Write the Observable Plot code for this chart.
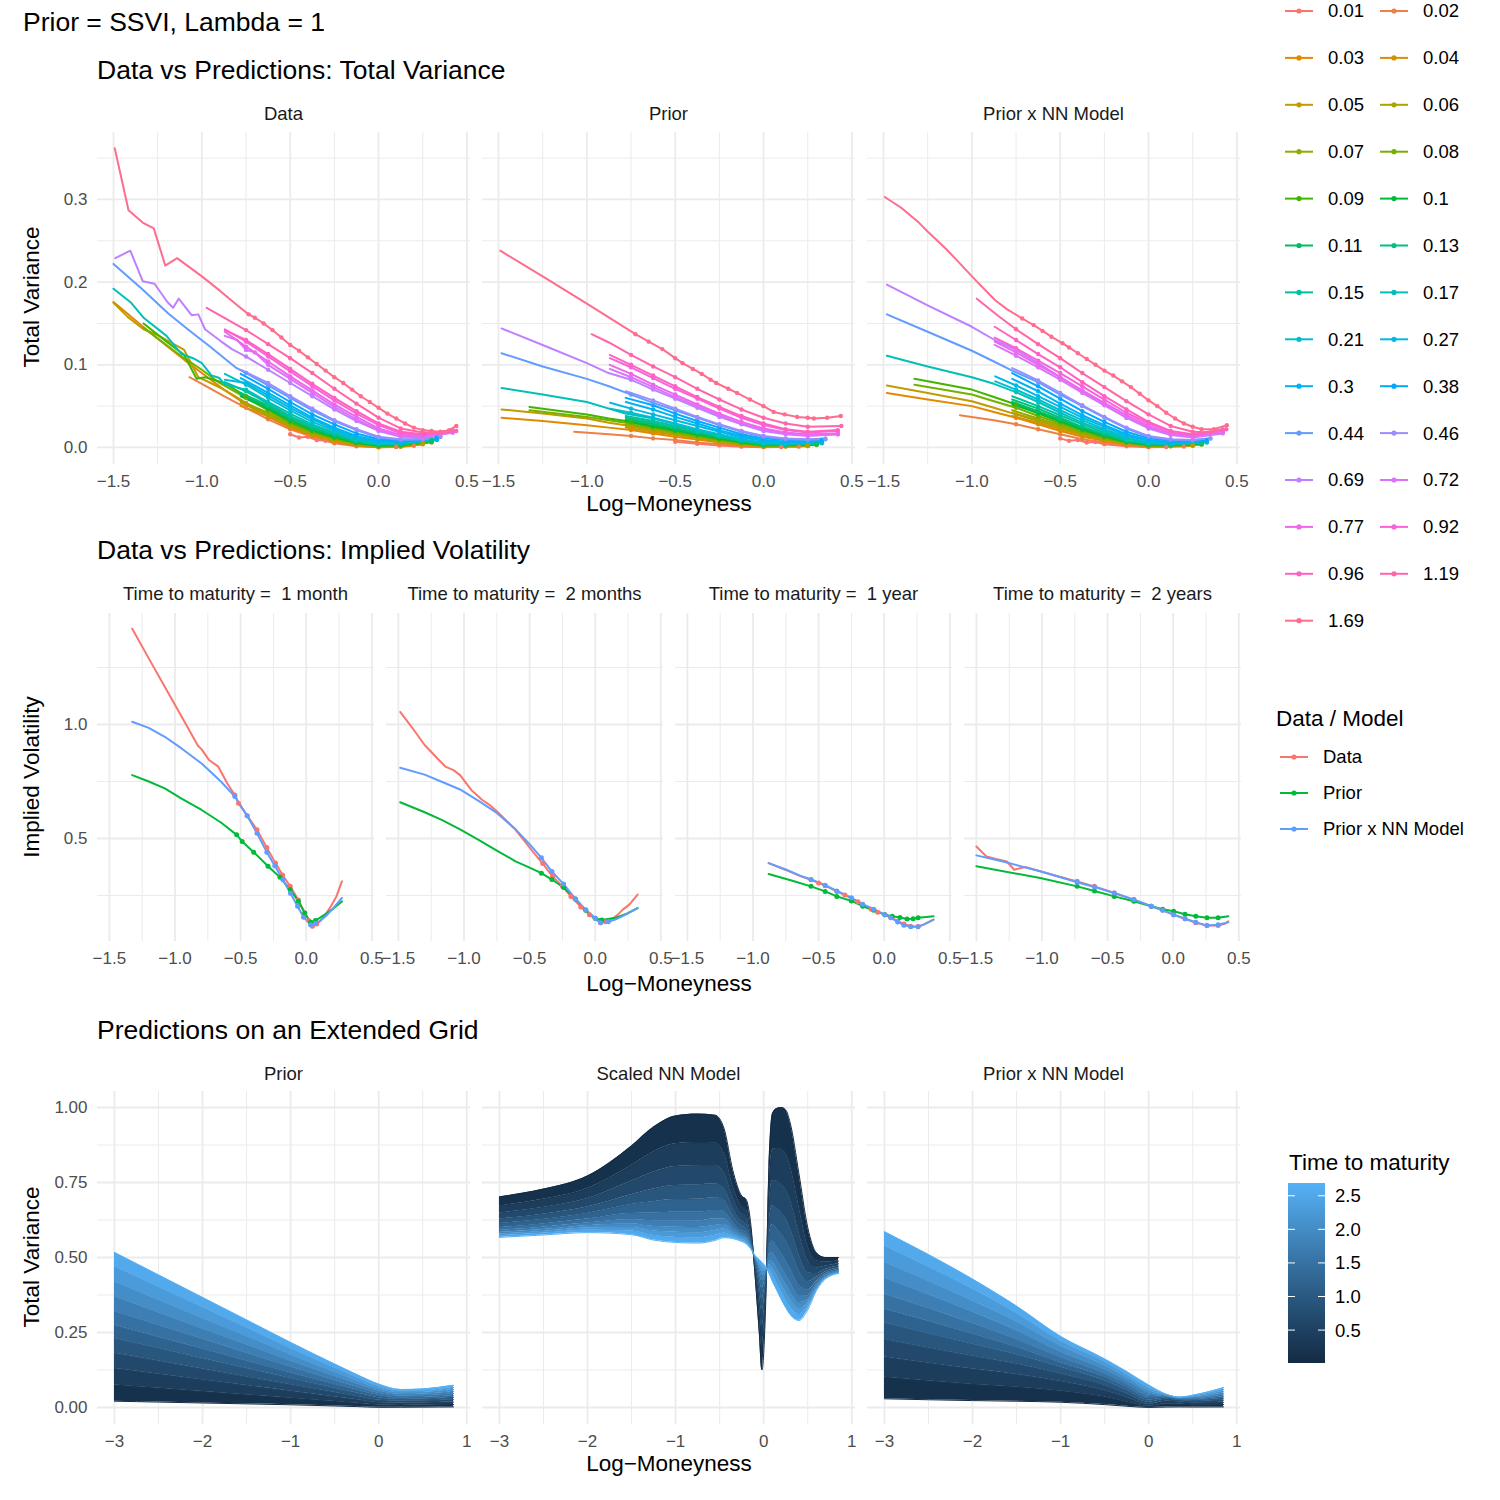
<!DOCTYPE html>
<html><head><meta charset="utf-8">
<script src="https://cdn.jsdelivr.net/npm/d3@7"></script>
<script src="https://cdn.jsdelivr.net/npm/@observablehq/plot@0.6"></script>
<style>
body{margin:0;background:#fff;}
#root{position:relative;width:1500px;height:1500px;overflow:hidden;background:#fff;}
</style></head><body><div id="root"></div>
<script>
// ---------------- DATA ----------------
const maturities = [0.01,0.02,0.03,0.04,0.05,0.06,0.07,0.08,0.09,0.1,0.11,0.13,0.15,0.17,0.21,0.27,0.3,0.38,0.44,0.46,0.69,0.72,0.77,0.92,0.96,1.19,1.69];
const maturityLabels = maturities.map(String);

// Row 1: total variance curves, one flat [k, w, k, w, ...] list per maturity
const tvDataCurves = [
 [-0.5,0.016,-0.45,0.012,-0.4,0.013,-0.35,0.009,-0.3,0.008,-0.25,0.005,-0.125,0.0015,0,0.0003,0.1,0.0008],
 [-1.07,0.085,-1.0,0.077,-0.875,0.062,-0.75,0.048,-0.625,0.034,-0.5,0.022,-0.375,0.013,-0.25,0.006,-0.125,0.002,0,0.0004,0.1,0.0006,0.2,0.002],
 [-1.5,0.176,-1.4,0.158,-1.3,0.14,-1.2,0.123,-1.1,0.106,-1.0,0.09,-0.875,0.07,-0.75,0.052,-0.625,0.037,-0.5,0.024,-0.375,0.014,-0.25,0.007,-0.125,0.0025,0,0.0006,0.125,0.001,0.25,0.004],
 [-0.78,0.05,-0.625,0.038,-0.5,0.025,-0.375,0.015,-0.25,0.008,-0.125,0.003,0,0.0008,0.125,0.0012,0.25,0.004],
 [-1.5,0.175,-1.42,0.158,-1.33,0.143,-1.25,0.136,-1.2,0.13,-1.1,0.118,-1.02,0.085,-0.95,0.078,-0.875,0.07,-0.75,0.054,-0.625,0.039,-0.5,0.026,-0.375,0.016,-0.25,0.009,-0.125,0.0035,0,0.001,0.125,0.0015,0.25,0.005],
 [-0.78,0.054,-0.625,0.04,-0.5,0.027,-0.375,0.017,-0.25,0.009,-0.125,0.004,0,0.0012,0.125,0.002,0.25,0.005],
 [-0.78,0.056,-0.625,0.042,-0.5,0.028,-0.375,0.018,-0.25,0.01,-0.125,0.0045,0,0.0015,0.125,0.002,0.3,0.006],
 [-1.33,0.145,-1.2,0.124,-1.1,0.108,-1.0,0.094,-0.9,0.078,-0.75,0.06,-0.625,0.045,-0.5,0.03,-0.375,0.019,-0.25,0.011,-0.125,0.005,0,0.0018,0.125,0.0025,0.3,0.007],
 [-1.33,0.15,-1.2,0.128,-1.1,0.112,-1.03,0.083,-0.98,0.085,-0.875,0.078,-0.75,0.062,-0.625,0.046,-0.5,0.031,-0.375,0.02,-0.25,0.012,-0.125,0.0055,0,0.002,0.125,0.003,0.3,0.007],
 [-0.78,0.062,-0.625,0.047,-0.5,0.033,-0.375,0.021,-0.25,0.013,-0.125,0.006,0,0.0025,0.125,0.003,0.3,0.008],
 [-0.78,0.064,-0.625,0.049,-0.5,0.034,-0.375,0.022,-0.25,0.014,-0.125,0.0065,0,0.003,0.125,0.0035,0.3,0.008],
 [-0.78,0.066,-0.625,0.051,-0.5,0.036,-0.375,0.024,-0.25,0.015,-0.125,0.007,0,0.0035,0.125,0.004,0.3,0.009],
 [-0.87,0.079,-0.75,0.068,-0.625,0.053,-0.5,0.038,-0.375,0.026,-0.25,0.017,-0.125,0.008,0,0.004,0.125,0.0045,0.33,0.009],
 [-1.5,0.192,-1.4,0.175,-1.33,0.157,-1.2,0.135,-1.115,0.113,-1.05,0.108,-1.0,0.102,-0.945,0.087,-0.9,0.084,-0.87,0.076,-0.75,0.07,-0.625,0.055,-0.5,0.041,-0.375,0.028,-0.25,0.018,-0.125,0.009,0,0.0045,0.125,0.005,0.33,0.01],
 [-0.87,0.089,-0.75,0.076,-0.625,0.06,-0.5,0.045,-0.375,0.031,-0.25,0.02,-0.125,0.011,0,0.005,0.125,0.005,0.33,0.01],
 [-0.87,0.082,-0.75,0.078,-0.625,0.063,-0.5,0.048,-0.375,0.034,-0.25,0.022,-0.125,0.012,0,0.007,0.125,0.006,0.33,0.011],
 [-0.78,0.084,-0.625,0.066,-0.5,0.051,-0.375,0.036,-0.25,0.024,-0.125,0.014,0,0.008,0.125,0.007,0.33,0.011],
 [-0.78,0.089,-0.625,0.071,-0.5,0.055,-0.375,0.04,-0.25,0.028,-0.125,0.017,0,0.01,0.125,0.008,0.33,0.012],
 [-1.5,0.222,-1.34,0.192,-1.19,0.162,-1.08,0.143,-0.96,0.123,-0.81,0.097,-0.75,0.09,-0.625,0.075,-0.5,0.06,-0.375,0.045,-0.25,0.032,-0.125,0.021,0,0.012,0.125,0.009,0.25,0.01,0.35,0.013],
 [-0.78,0.094,-0.625,0.078,-0.5,0.062,-0.375,0.047,-0.25,0.033,-0.125,0.022,0,0.013,0.125,0.01,0.25,0.01,0.35,0.013],
 [-1.49,0.229,-1.405,0.238,-1.334,0.201,-1.268,0.198,-1.195,0.176,-1.163,0.169,-1.131,0.18,-1.058,0.16,-1.02,0.161,-0.982,0.143,-0.896,0.129,-0.83,0.119,-0.75,0.11,-0.625,0.094,-0.5,0.078,-0.375,0.062,-0.25,0.046,-0.125,0.032,0,0.02,0.125,0.013,0.25,0.012,0.42,0.018],
 [-0.87,0.135,-0.8,0.13,-0.75,0.118,-0.7,0.115,-0.625,0.1,-0.5,0.083,-0.375,0.066,-0.25,0.049,-0.125,0.034,0,0.021,0.125,0.014,0.25,0.013,0.42,0.018],
 [-0.87,0.14,-0.75,0.122,-0.625,0.104,-0.5,0.086,-0.375,0.069,-0.25,0.052,-0.125,0.037,0,0.023,0.125,0.015,0.25,0.014,0.42,0.019],
 [-0.87,0.143,-0.75,0.128,-0.625,0.11,-0.5,0.092,-0.375,0.074,-0.25,0.057,-0.125,0.041,0,0.027,0.125,0.017,0.25,0.015,0.42,0.02],
 [-0.87,0.142,-0.75,0.13,-0.625,0.113,-0.5,0.095,-0.375,0.077,-0.25,0.06,-0.125,0.044,0,0.029,0.125,0.019,0.25,0.016,0.42,0.021],
 [-0.973,0.169,-0.875,0.157,-0.75,0.142,-0.625,0.125,-0.5,0.108,-0.375,0.09,-0.25,0.071,-0.125,0.053,0,0.036,0.125,0.023,0.25,0.018,0.35,0.018,0.44,0.02],
 [-1.493,0.362,-1.415,0.287,-1.335,0.272,-1.272,0.265,-1.207,0.22,-1.14,0.229,-1.0,0.207,-0.9,0.19,-0.8,0.172,-0.735,0.161,-0.7,0.157,-0.65,0.15,-0.6,0.142,-0.55,0.133,-0.5,0.124,-0.45,0.117,-0.4,0.109,-0.35,0.101,-0.3,0.093,-0.25,0.085,-0.2,0.078,-0.15,0.07,-0.1,0.062,-0.05,0.055,0,0.048,0.05,0.041,0.1,0.035,0.15,0.029,0.2,0.024,0.25,0.021,0.3,0.02,0.35,0.019,0.4,0.021,0.44,0.026]
];
const tvPriorCurves = [
 [-0.5,0.007,-0.375,0.0045,-0.25,0.0025,-0.125,0.001,0,0.0004,0.1,0.0005],
 [-1.072,0.019,-0.875,0.016,-0.75,0.014,-0.625,0.011,-0.5,0.009,-0.375,0.006,-0.25,0.004,-0.125,0.002,0,0.0008,0.2,0.001],
 [-1.483,0.036,-1.25,0.032,-1.0,0.027,-0.875,0.024,-0.75,0.021,-0.625,0.017,-0.5,0.013,-0.375,0.0095,-0.25,0.006,-0.125,0.003,0,0.0012,0.125,0.0012,0.25,0.0016],
 [-0.78,0.024,-0.625,0.019,-0.5,0.015,-0.375,0.011,-0.25,0.007,-0.125,0.0035,0,0.0015,0.125,0.0014,0.25,0.002],
 [-1.483,0.046,-1.25,0.041,-1.0,0.035,-0.875,0.03,-0.75,0.026,-0.625,0.021,-0.5,0.016,-0.375,0.012,-0.25,0.0075,-0.125,0.004,0,0.0018,0.125,0.0016,0.25,0.0022],
 [-0.78,0.026,-0.625,0.021,-0.5,0.017,-0.375,0.012,-0.25,0.008,-0.125,0.0045,0,0.002,0.125,0.0018,0.25,0.0025],
 [-0.78,0.028,-0.625,0.023,-0.5,0.018,-0.375,0.013,-0.25,0.009,-0.125,0.005,0,0.0022,0.125,0.002,0.3,0.003],
 [-1.325,0.045,-1.0,0.037,-0.875,0.033,-0.75,0.029,-0.625,0.024,-0.5,0.019,-0.375,0.014,-0.25,0.0095,-0.125,0.0055,0,0.0025,0.125,0.0025,0.3,0.0035],
 [-1.325,0.049,-1.0,0.04,-0.875,0.035,-0.75,0.031,-0.625,0.025,-0.5,0.02,-0.375,0.015,-0.25,0.01,-0.125,0.006,0,0.0028,0.125,0.0028,0.3,0.004],
 [-0.78,0.032,-0.625,0.026,-0.5,0.021,-0.375,0.016,-0.25,0.011,-0.125,0.0065,0,0.003,0.125,0.003,0.3,0.004],
 [-0.78,0.034,-0.625,0.028,-0.5,0.022,-0.375,0.017,-0.25,0.012,-0.125,0.007,0,0.0035,0.125,0.003,0.3,0.004],
 [-0.78,0.036,-0.625,0.03,-0.5,0.024,-0.375,0.018,-0.25,0.013,-0.125,0.0075,0,0.004,0.125,0.0035,0.3,0.005],
 [-0.78,0.038,-0.625,0.032,-0.5,0.026,-0.375,0.02,-0.25,0.014,-0.125,0.008,0,0.0045,0.125,0.004,0.33,0.005],
 [-1.483,0.072,-1.25,0.064,-1.0,0.055,-0.875,0.047,-0.782,0.041,-0.625,0.035,-0.5,0.028,-0.375,0.021,-0.25,0.015,-0.125,0.009,0,0.005,0.125,0.004,0.33,0.006],
 [-0.868,0.047,-0.75,0.042,-0.625,0.036,-0.5,0.029,-0.375,0.022,-0.25,0.016,-0.125,0.01,0,0.006,0.125,0.005,0.33,0.006],
 [-0.868,0.054,-0.75,0.047,-0.625,0.04,-0.5,0.033,-0.375,0.026,-0.25,0.019,-0.125,0.012,0,0.008,0.125,0.006,0.33,0.007],
 [-0.78,0.055,-0.625,0.046,-0.5,0.037,-0.375,0.029,-0.25,0.021,-0.125,0.014,0,0.009,0.125,0.007,0.33,0.008],
 [-0.78,0.06,-0.625,0.051,-0.5,0.041,-0.375,0.032,-0.25,0.024,-0.125,0.016,0,0.011,0.125,0.009,0.33,0.009],
 [-1.483,0.114,-1.25,0.098,-1.0,0.083,-0.875,0.074,-0.75,0.064,-0.625,0.054,-0.5,0.045,-0.375,0.036,-0.25,0.027,-0.125,0.019,0,0.013,0.125,0.01,0.25,0.009,0.35,0.01],
 [-0.78,0.068,-0.625,0.057,-0.5,0.047,-0.375,0.037,-0.25,0.028,-0.125,0.02,0,0.014,0.125,0.011,0.25,0.01,0.35,0.011],
 [-1.483,0.144,-1.25,0.124,-1.0,0.102,-0.877,0.09,-0.75,0.082,-0.625,0.07,-0.5,0.059,-0.375,0.048,-0.25,0.037,-0.125,0.028,0,0.02,0.125,0.016,0.25,0.014,0.42,0.016],
 [-0.87,0.095,-0.75,0.085,-0.625,0.073,-0.5,0.061,-0.375,0.05,-0.25,0.039,-0.125,0.029,0,0.021,0.125,0.017,0.25,0.015,0.42,0.016],
 [-0.87,0.1,-0.75,0.089,-0.625,0.076,-0.5,0.064,-0.375,0.052,-0.25,0.041,-0.125,0.031,0,0.023,0.125,0.018,0.25,0.016,0.42,0.017],
 [-0.87,0.108,-0.75,0.097,-0.625,0.084,-0.5,0.071,-0.375,0.059,-0.25,0.047,-0.125,0.036,0,0.027,0.125,0.021,0.25,0.018,0.42,0.02],
 [-0.87,0.112,-0.75,0.1,-0.625,0.087,-0.5,0.074,-0.375,0.061,-0.25,0.049,-0.125,0.038,0,0.029,0.125,0.022,0.25,0.019,0.42,0.021],
 [-0.973,0.137,-0.875,0.127,-0.75,0.112,-0.625,0.098,-0.5,0.085,-0.375,0.071,-0.25,0.058,-0.125,0.046,0,0.036,0.125,0.029,0.25,0.025,0.44,0.026],
 [-1.49,0.238,-1.25,0.207,-1.0,0.174,-0.725,0.137,-0.65,0.128,-0.573,0.119,-0.5,0.108,-0.458,0.102,-0.4,0.095,-0.35,0.089,-0.3,0.082,-0.268,0.078,-0.2,0.071,-0.15,0.066,-0.077,0.058,0,0.05,0.057,0.043,0.12,0.04,0.19,0.037,0.25,0.036,0.285,0.035,0.36,0.036,0.437,0.038]
];
const tvPriorNNCurves = [
 [-0.5,0.011,-0.45,0.008,-0.4,0.009,-0.35,0.006,-0.3,0.0065,-0.25,0.004,-0.125,0.0015,0,0.0004,0.1,0.0006],
 [-1.068,0.039,-0.875,0.033,-0.75,0.028,-0.625,0.022,-0.5,0.016,-0.375,0.01,-0.25,0.006,-0.125,0.003,0,0.001,0.2,0.0012],
 [-1.481,0.066,-1.25,0.058,-1.0,0.05,-0.875,0.043,-0.75,0.036,-0.625,0.028,-0.5,0.02,-0.375,0.013,-0.25,0.008,-0.125,0.004,0,0.0015,0.125,0.0014,0.25,0.002],
 [-0.772,0.038,-0.625,0.03,-0.5,0.022,-0.375,0.015,-0.25,0.009,-0.125,0.004,0,0.0018,0.125,0.0016,0.25,0.0025],
 [-1.481,0.075,-1.25,0.066,-1.0,0.056,-0.875,0.048,-0.75,0.04,-0.625,0.032,-0.5,0.024,-0.375,0.016,-0.25,0.0095,-0.125,0.0045,0,0.002,0.125,0.0018,0.25,0.0028],
 [-0.772,0.042,-0.625,0.033,-0.5,0.025,-0.375,0.017,-0.25,0.01,-0.125,0.005,0,0.0021,0.125,0.002,0.25,0.003],
 [-0.772,0.045,-0.625,0.035,-0.5,0.027,-0.375,0.018,-0.25,0.011,-0.125,0.0055,0,0.0024,0.125,0.0022,0.3,0.0035],
 [-1.325,0.076,-1.0,0.064,-0.875,0.056,-0.75,0.048,-0.625,0.038,-0.5,0.029,-0.375,0.02,-0.25,0.012,-0.125,0.006,0,0.0027,0.125,0.0025,0.3,0.0038],
 [-1.325,0.083,-1.0,0.07,-0.875,0.061,-0.75,0.052,-0.625,0.041,-0.5,0.031,-0.375,0.021,-0.25,0.013,-0.125,0.0065,0,0.003,0.125,0.0028,0.3,0.004],
 [-0.772,0.052,-0.625,0.042,-0.5,0.032,-0.375,0.022,-0.25,0.014,-0.125,0.007,0,0.003,0.125,0.003,0.3,0.0045],
 [-0.772,0.055,-0.625,0.044,-0.5,0.034,-0.375,0.024,-0.25,0.015,-0.125,0.0075,0,0.0035,0.125,0.003,0.3,0.005],
 [-0.772,0.058,-0.625,0.047,-0.5,0.036,-0.375,0.025,-0.25,0.016,-0.125,0.008,0,0.004,0.125,0.0035,0.3,0.005],
 [-0.772,0.062,-0.625,0.05,-0.5,0.039,-0.375,0.028,-0.25,0.018,-0.125,0.009,0,0.0045,0.125,0.004,0.33,0.006],
 [-1.481,0.111,-1.25,0.098,-1.0,0.085,-0.875,0.077,-0.75,0.067,-0.625,0.055,-0.5,0.042,-0.375,0.03,-0.25,0.02,-0.125,0.01,0,0.005,0.125,0.004,0.33,0.007],
 [-0.868,0.08,-0.75,0.07,-0.625,0.058,-0.5,0.045,-0.375,0.033,-0.25,0.022,-0.125,0.012,0,0.006,0.125,0.005,0.33,0.007],
 [-0.868,0.086,-0.75,0.075,-0.625,0.062,-0.5,0.049,-0.375,0.036,-0.25,0.025,-0.125,0.014,0,0.008,0.125,0.006,0.33,0.008],
 [-0.772,0.083,-0.625,0.068,-0.5,0.053,-0.375,0.039,-0.25,0.027,-0.125,0.016,0,0.009,0.125,0.006,0.33,0.008],
 [-0.772,0.09,-0.625,0.074,-0.5,0.059,-0.375,0.044,-0.25,0.031,-0.125,0.019,0,0.011,0.125,0.008,0.33,0.009],
 [-1.481,0.161,-1.25,0.14,-1.0,0.117,-0.875,0.104,-0.772,0.093,-0.625,0.079,-0.5,0.064,-0.375,0.05,-0.25,0.036,-0.125,0.023,0,0.013,0.125,0.009,0.25,0.009,0.35,0.011],
 [-0.772,0.096,-0.625,0.081,-0.5,0.066,-0.375,0.051,-0.25,0.037,-0.125,0.024,0,0.014,0.125,0.01,0.25,0.009,0.35,0.011],
 [-1.481,0.197,-1.25,0.172,-1.0,0.146,-0.871,0.13,-0.75,0.118,-0.625,0.102,-0.5,0.085,-0.375,0.068,-0.25,0.052,-0.125,0.036,0,0.023,0.125,0.015,0.25,0.012,0.42,0.017],
 [-0.871,0.124,-0.75,0.111,-0.625,0.097,-0.5,0.082,-0.375,0.066,-0.25,0.051,-0.125,0.036,0,0.024,0.125,0.016,0.25,0.013,0.42,0.018],
 [-0.871,0.128,-0.75,0.115,-0.625,0.1,-0.5,0.085,-0.375,0.069,-0.25,0.054,-0.125,0.039,0,0.026,0.125,0.017,0.25,0.014,0.42,0.019],
 [-0.871,0.133,-0.75,0.12,-0.625,0.105,-0.5,0.09,-0.375,0.074,-0.25,0.058,-0.125,0.042,0,0.029,0.125,0.019,0.25,0.015,0.42,0.021],
 [-0.871,0.146,-0.75,0.13,-0.625,0.113,-0.5,0.097,-0.375,0.079,-0.25,0.062,-0.125,0.046,0,0.031,0.125,0.02,0.25,0.016,0.42,0.022],
 [-0.972,0.18,-0.85,0.159,-0.75,0.143,-0.625,0.125,-0.5,0.108,-0.375,0.09,-0.25,0.073,-0.125,0.056,0,0.04,0.125,0.026,0.25,0.019,0.35,0.018,0.44,0.022],
 [-1.493,0.303,-1.4,0.29,-1.3,0.272,-1.249,0.261,-1.15,0.241,-1.096,0.229,-0.982,0.203,-0.868,0.178,-0.8,0.167,-0.715,0.156,-0.65,0.148,-0.6,0.141,-0.55,0.134,-0.487,0.126,-0.45,0.121,-0.4,0.114,-0.35,0.107,-0.3,0.1,-0.25,0.093,-0.2,0.087,-0.15,0.08,-0.1,0.073,-0.05,0.065,0,0.057,0.05,0.05,0.1,0.042,0.15,0.035,0.2,0.029,0.25,0.025,0.3,0.022,0.37,0.022,0.443,0.027]
];

// Row 2: implied volatility, [k, iv, ...]
const ivSeries = ["Data", "Prior", "Prior x NN Model"];
const ivFacets = ["Time to maturity =  1 month", "Time to maturity =  2 months", "Time to maturity =  1 year", "Time to maturity =  2 years"];
const ivData_1m = [-1.326,1.42,-1.2,1.29,-1.078,1.166,-0.95,1.035,-0.825,0.907,-0.797,0.891,-0.74,0.844,-0.67,0.815,-0.6,0.74,-0.544,0.691,-0.516,0.655,-0.45,0.6,-0.375,0.538,-0.3,0.46,-0.234,0.392,-0.18,0.34,-0.122,0.29,-0.06,0.23,-0.011,0.173,0.02,0.14,0.047,0.115,0.08,0.125,0.117,0.144,0.15,0.17,0.188,0.203,0.23,0.246,0.272,0.312];
const ivPrior_1m = [-1.326,0.778,-1.2,0.75,-1.078,0.72,-0.95,0.675,-0.797,0.625,-0.65,0.57,-0.53,0.516,-0.488,0.487,-0.4,0.44,-0.291,0.378,-0.2,0.33,-0.122,0.276,-0.06,0.225,-0.011,0.173,0.033,0.133,0.07,0.14,0.103,0.152,0.15,0.17,0.2,0.19,0.272,0.224];
const ivNN_1m = [-1.326,1.012,-1.2,0.985,-1.078,0.946,-0.95,0.895,-0.797,0.829,-0.65,0.75,-0.544,0.684,-0.45,0.6,-0.375,0.523,-0.3,0.44,-0.24,0.38,-0.178,0.319,-0.12,0.26,-0.066,0.203,-0.02,0.155,0.033,0.122,0.07,0.128,0.103,0.137,0.15,0.16,0.2,0.19,0.272,0.239];
const ivData_2m = [-1.486,1.055,-1.4,0.99,-1.3,0.91,-1.2,0.85,-1.142,0.815,-1.08,0.8,-1.03,0.778,-0.945,0.713,-0.9,0.69,-0.861,0.669,-0.8,0.645,-0.748,0.618,-0.68,0.58,-0.607,0.538,-0.54,0.49,-0.466,0.436,-0.4,0.39,-0.325,0.334,-0.25,0.29,-0.185,0.246,-0.11,0.2,-0.044,0.166,0.041,0.13,0.08,0.135,0.125,0.144,0.17,0.165,0.21,0.188,0.26,0.21,0.323,0.254];
const ivPrior_2m = [-1.486,0.659,-1.3,0.615,-1.17,0.582,-1.03,0.54,-0.889,0.494,-0.75,0.447,-0.607,0.4,-0.5,0.372,-0.41,0.348,-0.33,0.32,-0.241,0.285,-0.15,0.235,-0.072,0.185,0,0.15,0.05,0.143,0.153,0.152,0.24,0.17,0.323,0.195];
const ivNN_2m = [-1.486,0.81,-1.3,0.78,-1.17,0.749,-1.03,0.715,-0.889,0.665,-0.75,0.612,-0.607,0.54,-0.5,0.475,-0.41,0.415,-0.33,0.355,-0.241,0.3,-0.15,0.235,-0.072,0.188,0,0.15,0.041,0.13,0.1,0.135,0.153,0.144,0.24,0.168,0.323,0.195];
const ivData_1y = [-0.881,0.392,-0.75,0.362,-0.64,0.335,-0.558,0.319,-0.5,0.305,-0.45,0.293,-0.361,0.268,-0.3,0.252,-0.25,0.237,-0.2,0.222,-0.164,0.21,-0.1,0.19,-0.05,0.177,0.005,0.166,0.05,0.155,0.103,0.137,0.15,0.125,0.202,0.115,0.258,0.114,0.3,0.122,0.376,0.144];
const ivPrior_1y = [-0.881,0.344,-0.7,0.315,-0.558,0.29,-0.45,0.268,-0.361,0.246,-0.25,0.226,-0.164,0.203,-0.08,0.185,0.005,0.166,0.061,0.159,0.12,0.153,0.174,0.147,0.22,0.148,0.258,0.152,0.3,0.155,0.376,0.159];
const ivNN_1y = [-0.881,0.392,-0.75,0.364,-0.64,0.337,-0.558,0.32,-0.45,0.295,-0.361,0.27,-0.25,0.24,-0.164,0.212,-0.08,0.19,0.005,0.166,0.05,0.152,0.103,0.134,0.15,0.12,0.202,0.113,0.258,0.113,0.3,0.122,0.376,0.144];
const ivData_2y = [-1.5,0.465,-1.424,0.421,-1.35,0.41,-1.268,0.399,-1.212,0.363,-1.127,0.375,-1.014,0.356,-0.9,0.338,-0.732,0.312,-0.6,0.29,-0.449,0.261,-0.3,0.232,-0.167,0.203,-0.08,0.185,0.003,0.166,0.09,0.148,0.172,0.13,0.257,0.118,0.342,0.118,0.398,0.127,0.42,0.137];
const ivPrior_2y = [-1.5,0.378,-1.014,0.327,-0.732,0.29,-0.6,0.27,-0.449,0.246,-0.3,0.225,-0.167,0.203,-0.08,0.19,0.003,0.181,0.09,0.168,0.172,0.159,0.257,0.152,0.342,0.152,0.42,0.159];
const ivNN_2y = [-1.5,0.426,-1.297,0.399,-1.014,0.356,-0.732,0.308,-0.6,0.287,-0.449,0.261,-0.3,0.232,-0.167,0.203,-0.08,0.185,0.003,0.166,0.09,0.148,0.172,0.133,0.257,0.118,0.342,0.122,0.42,0.133];
const ivDenseRange = [[-0.55,0.1],[-0.42,0.12],[-0.56,0.27],[-0.74,0.35]];

// Row 3: extended grid, one line per time to maturity
const extT = [0.01,0.27,0.54,0.81,1.08,1.35,1.62,1.89,2.16,2.43,2.69];
const extPriorK = [-3,-2.5,-2,-1.5,-1,-0.5,-0.25,0,0.25,0.5,0.85];
const extPriorW = [
 [0.021,0.018,0.015,0.012,0.009,0.005,0.003,0.0005,0.0008,0.0012,0.0018],
 [0.075,0.064,0.053,0.042,0.031,0.02,0.014,0.008,0.007,0.008,0.01],
 [0.13,0.111,0.092,0.073,0.054,0.035,0.026,0.016,0.014,0.015,0.018],
 [0.181,0.155,0.128,0.102,0.076,0.05,0.037,0.024,0.021,0.022,0.026],
 [0.23,0.197,0.163,0.13,0.097,0.064,0.048,0.032,0.027,0.028,0.033],
 [0.274,0.234,0.195,0.155,0.115,0.077,0.058,0.04,0.032,0.033,0.039],
 [0.32,0.274,0.228,0.181,0.135,0.09,0.068,0.047,0.038,0.039,0.046],
 [0.37,0.316,0.262,0.209,0.155,0.104,0.079,0.055,0.043,0.044,0.053],
 [0.419,0.358,0.297,0.237,0.176,0.117,0.089,0.062,0.049,0.05,0.06],
 [0.47,0.402,0.334,0.266,0.197,0.132,0.1,0.07,0.055,0.056,0.067],
 [0.517,0.442,0.367,0.292,0.217,0.145,0.11,0.078,0.06,0.062,0.074]
];
const extNNK = [-3,-2.5,-2,-1.5,-1.25,-1,-0.75,-0.55,-0.45,-0.35,-0.25,-0.2,-0.15,-0.1,-0.05,-0.02,0.02,0.06,0.1,0.15,0.2,0.25,0.3,0.4,0.5,0.6,0.7,0.85];
const extNNW = [
 [0.702,0.728,0.772,0.872,0.935,0.972,0.978,0.974,0.93,0.79,0.705,0.694,0.62,0.45,0.25,0.125,0.32,0.8,0.98,0.997,1.0,0.992,0.95,0.78,0.6,0.515,0.5,0.5],
 [0.672,0.694,0.730,0.807,0.852,0.879,0.883,0.882,0.850,0.740,0.672,0.661,0.600,0.463,0.303,0.204,0.353,0.723,0.857,0.863,0.859,0.847,0.809,0.672,0.540,0.488,0.484,0.488],
 [0.648,0.667,0.696,0.754,0.784,0.803,0.806,0.807,0.784,0.699,0.644,0.635,0.584,0.473,0.347,0.269,0.38,0.659,0.756,0.754,0.744,0.728,0.694,0.584,0.49,0.465,0.471,0.479],
 [0.628,0.644,0.668,0.709,0.728,0.74,0.742,0.745,0.73,0.665,0.621,0.613,0.57,0.481,0.384,0.322,0.402,0.606,0.672,0.663,0.648,0.63,0.598,0.51,0.449,0.446,0.46,0.471],
 [0.613,0.627,0.647,0.677,0.686,0.693,0.694,0.699,0.69,0.64,0.605,0.596,0.561,0.488,0.41,0.362,0.419,0.568,0.61,0.596,0.578,0.557,0.528,0.457,0.419,0.433,0.452,0.465],
 [0.599,0.612,0.628,0.647,0.648,0.651,0.651,0.657,0.653,0.617,0.589,0.582,0.552,0.493,0.435,0.398,0.434,0.532,0.554,0.536,0.514,0.491,0.464,0.408,0.391,0.42,0.445,0.46],
 [0.59,0.601,0.615,0.626,0.622,0.622,0.621,0.628,0.628,0.602,0.579,0.571,0.545,0.497,0.452,0.423,0.444,0.508,0.515,0.493,0.469,0.445,0.419,0.373,0.372,0.411,0.44,0.456],
 [0.583,0.593,0.606,0.612,0.603,0.601,0.6,0.607,0.61,0.59,0.571,0.564,0.541,0.5,0.464,0.441,0.452,0.49,0.487,0.463,0.437,0.412,0.387,0.349,0.358,0.405,0.437,0.453],
 [0.578,0.587,0.598,0.6,0.588,0.584,0.582,0.59,0.595,0.581,0.565,0.558,0.537,0.502,0.474,0.455,0.458,0.476,0.465,0.439,0.411,0.386,0.361,0.329,0.347,0.4,0.434,0.451],
 [0.572,0.581,0.591,0.588,0.573,0.567,0.565,0.574,0.581,0.572,0.559,0.552,0.534,0.505,0.483,0.47,0.464,0.462,0.442,0.414,0.386,0.359,0.336,0.31,0.336,0.395,0.431,0.449],
 [0.567,0.575,0.583,0.576,0.558,0.55,0.548,0.557,0.566,0.563,0.553,0.546,0.53,0.507,0.493,0.484,0.47,0.448,0.42,0.39,0.36,0.333,0.31,0.29,0.325,0.39,0.428,0.447]
];
const extPNK = [-3,-2,-1.5,-1,-0.5,-0.25,0,0.2,0.35,0.5,0.85];
const extPNW = [
 [0.029,0.023,0.0209,0.0175,0.0096,0.0042,0.0002,0.0014,0.0018,0.0015,0.0018],
 [0.101,0.077,0.0678,0.0545,0.035,0.0186,0.0042,0.012,0.0105,0.0089,0.0098],
 [0.168,0.128,0.110,0.0866,0.056,0.0332,0.01,0.0208,0.018,0.0151,0.0172],
 [0.227,0.171,0.145,0.112,0.074,0.0455,0.017,0.0271,0.0233,0.0203,0.0245],
 [0.282,0.211,0.176,0.134,0.089,0.0574,0.0245,0.0321,0.0265,0.024,0.0307],
 [0.328,0.245,0.201,0.149,0.101,0.0676,0.0329,0.0337,0.0276,0.0264,0.0359],
 [0.378,0.28,0.227,0.167,0.113,0.0778,0.0405,0.0363,0.0296,0.0296,0.042],
 [0.431,0.318,0.256,0.185,0.126,0.0891,0.049,0.038,0.031,0.0321,0.048],
 [0.484,0.355,0.285,0.205,0.139,0.0993,0.0565,0.0407,0.0329,0.0353,0.0541],
 [0.538,0.395,0.314,0.222,0.152,0.11,0.0654,0.0434,0.0344,0.0383,0.0602],
 [0.586,0.428,0.338,0.237,0.162,0.12,0.0746,0.044,0.0341,0.0409,0.0662]
];

// ---------------- HELPERS ----------------
const root = document.getElementById("root");
const FONT = '"Liberation Sans", Arial, Helvetica, sans-serif';
const GRID = "#EBEBEB";
const MINUS = "\u2212";
const fmt1 = d => (d < 0 ? MINUS : "") + Math.abs(d).toFixed(1);
const fmt0 = d => (d < 0 ? MINUS : "") + Math.abs(d);
const fmt2 = d => (d < 0 ? MINUS : "") + Math.abs(d).toFixed(2);

// ggplot2 hue palette (polar Luv)
function hclLuv(h, c, l) {
  const hr = h * Math.PI / 180, u = c * Math.cos(hr), v = c * Math.sin(hr);
  const Xn = 95.047, Yn = 100, Zn = 108.883;
  const den = Xn + 15 * Yn + 3 * Zn, un = 4 * Xn / den, vn = 9 * Yn / den;
  const Y = l > 8 ? Yn * Math.pow((l + 16) / 116, 3) : Yn * l / 903.3;
  const up = u / (13 * l) + un, vp = v / (13 * l) + vn;
  const X = Y * 9 * up / (4 * vp), Z = Y * (12 - 3 * up - 20 * vp) / (4 * vp);
  const x = X / 100, y = Y / 100, z = Z / 100;
  const r = 3.2404542 * x - 1.5371385 * y - 0.4985314 * z;
  const g = -0.9692660 * x + 1.8760108 * y + 0.0415560 * z;
  const b = 0.0556434 * x - 0.2040259 * y + 1.0572252 * z;
  const gam = t => { t = t <= 0.0031308 ? 12.92 * t : 1.055 * Math.pow(t, 1 / 2.4) - 0.055; return Math.round(255 * Math.max(0, Math.min(1, t))); };
  return d3.rgb(gam(r), gam(g), gam(b)).formatHex();
}
const hueColors = maturities.map((_, i) => hclLuv(15 + i * 360 / maturities.length, 100, 65));
const ivColors = ["#F8766D", "#00BA38", "#619CFF"];
const gradLow = "#132B43", gradHigh = "#56B1F7";

function addText(txt, x, cy, size, opt = {}) {
  const d = document.createElement("div");
  d.textContent = txt;
  d.style.cssText = `position:absolute;white-space:pre;font-family:${FONT};font-size:${size}px;line-height:1;color:${opt.color || "#000"};`;
  d.style.left = x + "px";
  if (opt.rotate) { d.style.top = cy + "px"; d.style.transform = "translate(-50%,-50%) rotate(-90deg)"; }
  else { d.style.top = (cy - 0.49 * size) + "px"; if (opt.middle) d.style.transform = "translateX(-50%)"; }
  root.appendChild(d);
}

function panel(o) {
  const mL = o.showY ? 70 : 0, mB = 34;
  const svg = Plot.plot({
    width: o.w + mL, height: o.h + mB,
    marginLeft: mL, marginRight: 0, marginTop: 0, marginBottom: mB,
    x: {domain: o.xDomain, ticks: o.xMajor, tickSize: 0, tickPadding: 10, tickFormat: o.xFmt, label: null},
    y: o.showY ? {domain: o.yDomain, ticks: o.yMajor, tickSize: 0, tickPadding: 10, tickFormat: o.yFmt, label: null}
               : {domain: o.yDomain, axis: null},
    color: o.color,
    style: {background: "transparent", overflow: "visible", fontFamily: FONT, fontSize: "17px", color: "#4D4D4D"},
    marks: [
      Plot.ruleX(o.xMinor, {stroke: GRID, strokeWidth: 1}),
      Plot.ruleY(o.yMinor, {stroke: GRID, strokeWidth: 1}),
      Plot.ruleX(o.xMajor, {stroke: GRID, strokeWidth: 1.8}),
      Plot.ruleY(o.yMajor, {stroke: GRID, strokeWidth: 1.8}),
      ...o.marks
    ]
  });
  svg.style.position = "absolute";
  svg.style.left = (o.left - mL) + "px";
  svg.style.top = o.top + "px";
  root.appendChild(svg);
}

// ---------------- ROW 1 ----------------
const r1 = {top: 132, h: 332, w: 373, lefts: [97, 482, 867]};
const kDomain = [-1.5906, 0.5203];
function curveRows(curves) {
  const rows = [];
  curves.forEach((c, i) => { for (let j = 0; j < c.length; j += 2) rows.push({m: maturityLabels[i], x: c[j], y: c[j + 1]}); });
  return rows;
}
[tvDataCurves, tvPriorCurves, tvPriorNNCurves].forEach((curves, p) => {
  const rows = curveRows(curves);
  panel({
    left: r1.lefts[p], top: r1.top, w: r1.w, h: r1.h, showY: p === 0,
    xDomain: kDomain, yDomain: [-0.0206, 0.381],
    xMajor: [-1.5, -1, -0.5, 0, 0.5], xMinor: [-1.25, -0.75, -0.25, 0.25],
    yMajor: [0, 0.1, 0.2, 0.3], yMinor: [0.05, 0.15, 0.25, 0.35],
    xFmt: fmt1, yFmt: fmt1,
    color: {type: "ordinal", domain: maturityLabels, range: hueColors},
    marks: [
      Plot.line(rows, {x: "x", y: "y", z: "m", stroke: "m", strokeWidth: 2}),
      Plot.dot(rows.filter(d => d.x > -0.76), {x: "x", y: "y", fill: "m", r: 2.2})
    ]
  });
});

// ---------------- ROW 2 ----------------
const r2 = {top: 613, h: 328, w: 277, lefts: [97, 386, 675, 964]};
const ivPanels = [[ivData_1m, ivPrior_1m, ivNN_1m], [ivData_2m, ivPrior_2m, ivNN_2m], [ivData_1y, ivPrior_1y, ivNN_1y], [ivData_2y, ivPrior_2y, ivNN_2y]];
ivPanels.forEach((series, p) => {
  const rows = [];
  series.forEach((arr, s) => { for (let j = 0; j < arr.length; j += 2) rows.push({s: ivSeries[s], x: arr[j], y: arr[j + 1]}); });
  const [lo, hi] = ivDenseRange[p];
  panel({
    left: r2.lefts[p], top: r2.top, w: r2.w, h: r2.h, showY: p === 0,
    xDomain: kDomain, yDomain: [0.0482, 1.4868],
    xMajor: [-1.5, -1, -0.5, 0, 0.5], xMinor: [-1.25, -0.75, -0.25, 0.25],
    yMajor: [0.5, 1.0], yMinor: [0.25, 0.75, 1.25],
    xFmt: fmt1, yFmt: fmt1,
    color: {type: "ordinal", domain: ivSeries, range: ivColors},
    marks: [
      Plot.line(rows, {x: "x", y: "y", z: "s", stroke: "s", strokeWidth: 2}),
      Plot.dot(rows.filter(d => d.x >= lo && d.x <= hi), {x: "x", y: "y", fill: "s", r: 2.5})
    ]
  });
});

// ---------------- ROW 3 ----------------
const r3 = {top: 1091, h: 333, w: 373, lefts: [97, 482, 867]};
function extRows(K, W) {
  const bands = [], lines = [];
  for (let i = 0; i < W.length; i++) {
    for (let j = 0; j < K.length; j++) {
      lines.push({line: i, T: extT[i], x: K[j], y: W[i][j]});
      if (i < W.length - 1) bands.push({band: i, T: (extT[i] + extT[i + 1]) / 2, x: K[j], y1: W[i][j], y2: W[i + 1][j]});
    }
  }
  return {bands, lines};
}
[[extPriorK, extPriorW], [extNNK, extNNW], [extPNK, extPNW]].forEach(([K, W], p) => {
  const {bands, lines} = extRows(K, W);
  panel({
    left: r3.lefts[p], top: r3.top, w: r3.w, h: r3.h, showY: p === 0,
    xDomain: [-3.1925, 1.0425], yDomain: [-0.0567, 1.0533],
    xMajor: [-3, -2, -1, 0, 1], xMinor: [-2.5, -1.5, -0.5, 0.5],
    yMajor: [0, 0.25, 0.5, 0.75, 1.0], yMinor: [0.125, 0.375, 0.625, 0.875],
    xFmt: fmt0, yFmt: fmt2,
    color: {type: "linear", domain: [0.01, 2.69], range: [gradLow, gradHigh], interpolate: d3.interpolateLab},
    marks: [
      Plot.areaY(bands, {x: "x", y1: "y1", y2: "y2", z: "band", fill: "T", curve: "monotone-x"}),
      Plot.line(lines, {x: "x", y: "y", z: "line", stroke: "T", strokeWidth: 1, curve: "monotone-x"})
    ]
  });
});

// ---------------- TEXT ----------------
addText("Prior = SSVI, Lambda = 1", 23, 22, 26.5);
addText("Data vs Predictions: Total Variance", 97, 70, 26.5);
addText("Data vs Predictions: Implied Volatility", 97, 550, 26.5);
addText("Predictions on an Extended Grid", 97, 1030, 26.5);
["Data", "Prior", "Prior x NN Model"].forEach((t, i) => addText(t, r1.lefts[i] + r1.w / 2, 114, 18.5, {middle: true, color: "#1A1A1A"}));
ivFacets.forEach((t, i) => addText(t, r2.lefts[i] + r2.w / 2, 594, 18.5, {middle: true, color: "#1A1A1A"}));
["Prior", "Scaled NN Model", "Prior x NN Model"].forEach((t, i) => addText(t, r3.lefts[i] + r3.w / 2, 1074, 18.5, {middle: true, color: "#1A1A1A"}));
[504, 984, 1464].forEach(y => addText("Log" + MINUS + "Moneyness", 669, y, 22.5, {middle: true}));
addText("Total Variance", 32, 297, 22.5, {rotate: true});
addText("Implied Volatility", 32, 777, 22.5, {rotate: true});
addText("Total Variance", 32, 1257, 22.5, {rotate: true});

// ---------------- LEGENDS ----------------
const ov = d3.create("svg").attr("width", 1500).attr("height", 1500)
  .style("position", "absolute").style("left", "0px").style("top", "0px")
  .style("font-family", FONT).style("pointer-events", "none");
function key(x0, y, color, label) {
  ov.append("line").attr("x1", x0).attr("x2", x0 + 28).attr("y1", y).attr("y2", y).attr("stroke", color).attr("stroke-width", 2);
  ov.append("circle").attr("cx", x0 + 14).attr("cy", y).attr("r", 2.6).attr("fill", color);
  ov.append("text").attr("x", x0 + 43).attr("y", y).attr("dy", "0.35em").attr("font-size", 18.5).attr("fill", "#000").text(label);
}
maturityLabels.forEach((lab, i) => {
  const r = Math.floor(i / 2), c = i % 2;
  key(c ? 1380 : 1285, 11 + 46.9 * r, hueColors[i], lab);
});
ov.append("text").attr("x", 1276).attr("y", 718).attr("dy", "0.35em").attr("font-size", 22.5).text("Data / Model");
ivSeries.forEach((s, i) => key(1280, 757 + 36 * i, ivColors[i], s));
ov.append("text").attr("x", 1289).attr("y", 1162).attr("dy", "0.35em").attr("font-size", 22.5).text("Time to maturity");
const grad = ov.append("defs").append("linearGradient").attr("id", "tgrad").attr("x1", 0).attr("x2", 0).attr("y1", 1).attr("y2", 0);
const lab = d3.interpolateLab(gradLow, gradHigh);
[0, 0.25, 0.5, 0.75, 1].forEach(t => grad.append("stop").attr("offset", t).attr("stop-color", lab(t)));
const cbTop = 1183, cbH = 180, cbX = 1288, cbW = 37;
ov.append("rect").attr("x", cbX).attr("y", cbTop).attr("width", cbW).attr("height", cbH).attr("fill", "url(#tgrad)");
const tY = v => cbTop + cbH - (v - 0.01) / (2.69 - 0.01) * cbH;
[0.5, 1.0, 1.5, 2.0, 2.5].forEach(v => {
  ov.append("line").attr("x1", cbX).attr("x2", cbX + 7).attr("y1", tY(v)).attr("y2", tY(v)).attr("stroke", "#fff").attr("stroke-width", 1);
  ov.append("line").attr("x1", cbX + cbW - 7).attr("x2", cbX + cbW).attr("y1", tY(v)).attr("y2", tY(v)).attr("stroke", "#fff").attr("stroke-width", 1);
  ov.append("text").attr("x", 1335).attr("y", tY(v)).attr("dy", "0.35em").attr("font-size", 18.5).text(v.toFixed(1));
});
root.appendChild(ov.node());
</script></body></html>
